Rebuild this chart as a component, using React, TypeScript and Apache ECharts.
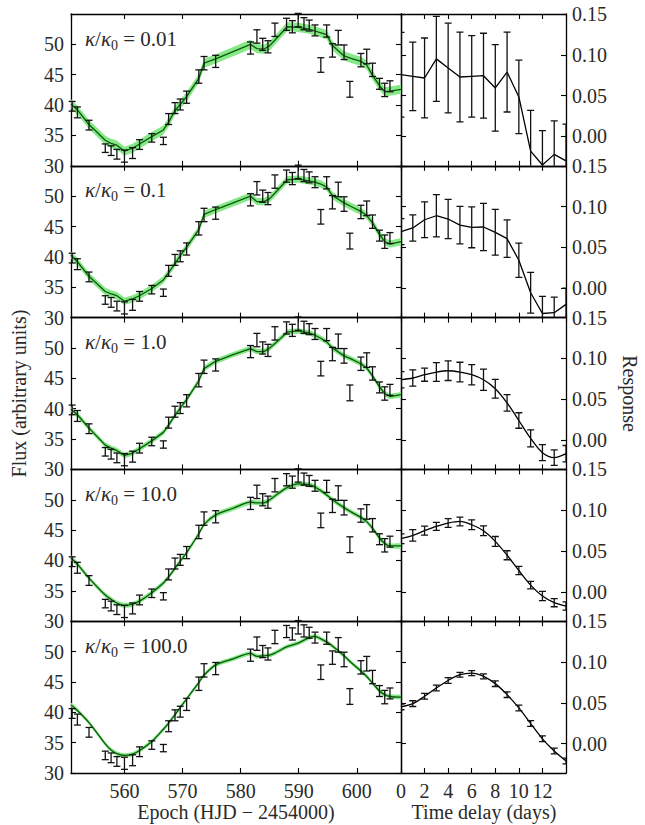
import React, { useEffect, useRef } from 'react';
import * as echarts from 'echarts';

// ---------- observations (same in every left panel) ----------
const obsEpoch = [551.0, 551.9, 553.9, 556.7, 557.7, 558.7, 560.0, 561.4, 562.6, 564.7, 566.7, 567.6, 568.7, 569.6, 570.7, 572.8, 573.7, 575.7, 581.7, 582.8, 583.8, 584.7, 585.9, 587.9, 588.9, 589.9, 590.9, 591.8, 592.8, 593.8, 594.8, 595.8, 596.8, 597.8, 598.8, 600.7, 601.7, 602.7, 603.9, 604.8, 605.7];
const obsFlux = [39.8, 38.8, 36.7, 32.9, 32.5, 31.9, 31.6, 32.1, 33.5, 34.6, 34.1, 37.7, 39.5, 40.1, 41.3, 44.7, 46.9, 47.2, 49.4, 51.3, 50.0, 49.6, 52.4, 53.3, 52.9, 54.0, 53.4, 53.1, 52.3, 46.6, 52.2, 49.0, 51.1, 48.7, 42.6, 47.4, 48.0, 45.8, 43.5, 42.5, 43.1];
const obsErr = [0.8, 0.9, 0.8, 0.7, 0.8, 0.8, 1.0, 0.9, 0.8, 0.7, 0.6, 0.9, 0.9, 0.9, 1.0, 1.1, 1.1, 1.0, 1.0, 1.1, 1.0, 1.0, 1.1, 1.0, 1.0, 1.1, 1.0, 0.9, 0.9, 1.2, 1.0, 1.1, 1.2, 1.2, 1.3, 1.1, 1.2, 1.1, 0.9, 1.1, 0.9];

// ---------- model light curves ----------
const modelEpoch = [550.8, 551.9, 553.9, 556.7, 557.7, 558.7, 560.0, 561.4, 562.6, 564.7, 566.7, 567.6, 568.7, 569.6, 570.7, 572.8, 573.7, 575.7, 578.7, 581.7, 582.8, 584.0, 585.0, 586.0, 588.0, 589.9, 591.8, 592.8, 593.8, 594.8, 595.8, 597.8, 599.0, 600.7, 601.7, 602.7, 603.9, 604.8, 605.7, 607.6];
const modelK001 = [40.2, 39.2, 36.8, 34.2, 33.7, 33.4, 32.4, 32.9, 33.6, 34.8, 35.9, 37.2, 39.1, 40.1, 41.4, 44.4, 46.9, 47.6, 48.8, 50.0, 49.3, 49.2, 49.8, 50.8, 52.9, 52.8, 52.5, 52.2, 51.9, 51.6, 49.8, 48.1, 47.7, 47.2, 46.6, 44.9, 43.2, 42.2, 42.3, 42.6];
const modelK01 = [40.3, 39.2, 36.8, 34.3, 33.9, 33.6, 32.7, 33.1, 33.6, 34.8, 36.2, 37.4, 38.9, 40.2, 41.6, 44.5, 47.0, 47.8, 48.9, 50.0, 49.1, 49.1, 49.6, 50.6, 52.7, 52.8, 52.5, 52.3, 52.0, 51.5, 50.1, 48.9, 48.3, 47.5, 46.8, 45.6, 43.7, 42.5, 42.1, 42.5];
const modelK1 = [39.9, 39.0, 36.8, 34.0, 33.5, 33.1, 32.3, 32.7, 33.4, 34.7, 36.1, 37.3, 38.9, 40.1, 41.5, 44.6, 46.6, 47.8, 48.9, 49.9, 49.4, 49.4, 50.0, 50.8, 52.6, 52.8, 52.5, 52.1, 51.6, 51.0, 50.0, 48.7, 48.2, 47.4, 46.7, 45.4, 43.6, 42.5, 42.0, 42.3];
const modelK10 = [40.4, 39.4, 37.1, 34.3, 33.6, 33.0, 32.6, 32.8, 33.3, 34.7, 36.3, 37.3, 38.7, 39.9, 41.3, 44.4, 45.9, 47.5, 48.6, 49.6, 49.5, 49.5, 50.0, 50.7, 52.0, 52.6, 52.5, 52.1, 51.5, 50.8, 50.0, 48.7, 48.0, 47.1, 46.4, 45.3, 43.7, 42.8, 42.4, 42.4];
const modelK100 = [41.2, 40.3, 38.3, 34.8, 33.8, 33.2, 32.9, 33.1, 33.7, 35.2, 37.2, 38.2, 39.6, 40.8, 42.2, 44.9, 46.1, 47.8, 48.8, 49.7, 49.2, 49.3, 49.4, 49.8, 50.8, 51.4, 52.3, 52.5, 52.1, 51.6, 50.9, 49.3, 48.2, 46.8, 45.9, 44.8, 43.5, 42.9, 42.6, 42.5];
const bandHalfWidth = [0.75, 0.6, 0.45, 0.4, 0.35];

// ---------- transfer functions ----------
const timeDelay = [0, 1, 2, 3, 4, 5, 6, 7, 8, 9, 10, 11, 12, 13, 14];
const respK001 = [0.0756, 0.0736, 0.0716, 0.095, 0.0838, 0.0728, 0.0736, 0.0744, 0.0594, 0.0789, 0.0484, -0.018, -0.035, -0.022, -0.03];
const respErrK001 = [0.052, 0.042, 0.049, 0.052, 0.055, 0.055, 0.05, 0.052, 0.053, 0.049, 0.045, 0.05, 0.042, 0.041, 0.045];
const respK01 = [0.0693, 0.0738, 0.0839, 0.0888, 0.0848, 0.0774, 0.0746, 0.075, 0.0685, 0.0607, 0.0343, -0.0055, -0.031, -0.03, -0.0198];
const respErrK01 = [0.016, 0.016, 0.022, 0.026, 0.024, 0.023, 0.025, 0.029, 0.028, 0.023, 0.021, 0.025, 0.021, 0.019, 0.02];
const respK1 = [0.0739, 0.076, 0.08, 0.0833, 0.0849, 0.0833, 0.08, 0.0739, 0.0629, 0.0455, 0.0239, 0.002, -0.0155, -0.0216, -0.0167];
const respErrK1 = [0.01, 0.01, 0.008, 0.0115, 0.012, 0.012, 0.0125, 0.013, 0.0115, 0.01, 0.0095, 0.0105, 0.0098, 0.0095, 0.01];
const respK10 = [0.0651, 0.0692, 0.0749, 0.0802, 0.0843, 0.0862, 0.0822, 0.0749, 0.0618, 0.0448, 0.0261, 0.0082, -0.0052, -0.0133, -0.0174];
const respErrK10 = [0.006, 0.007, 0.0055, 0.005, 0.0053, 0.0053, 0.006, 0.006, 0.006, 0.0055, 0.005, 0.0047, 0.0057, 0.005, 0.005];
const respK100 = [0.045, 0.049, 0.058, 0.0682, 0.0774, 0.0844, 0.0864, 0.0824, 0.0735, 0.06, 0.0437, 0.0246, 0.0059, -0.0091, -0.0213];
const respErrK100 = [0.0035, 0.0035, 0.0035, 0.0035, 0.0035, 0.003, 0.003, 0.003, 0.0035, 0.0035, 0.0035, 0.0035, 0.0035, 0.0035, 0.0035];

const kappaLabels = ['0.01', '0.1', '1.0', '10.0', '100.0'];
const models = [modelK001, modelK01, modelK1, modelK10, modelK100];
const responses = [respK001, respK01, respK1, respK10, respK100];
const responseErrs = [respErrK001, respErrK01, respErrK1, respErrK10, respErrK100];
const smoothPanel = [false, false, true, true, true];

const FONT = 'Liberation Serif';
const TXT = '#2a2a2a';

export default function App() {
  const ref = useRef<HTMLDivElement>(null);
  useEffect(() => {
    if (!ref.current) return;
    const chart = echarts.init(ref.current, undefined, { renderer: 'svg' });
    const LEFT = 71, MID = 401, RIGHT = 566, TOP = 14, PH = 151.8;
    const grid: any[] = [];
    const xAxis: any[] = [];
    const yAxis: any[] = [];
    const series: any[] = [];
    const graphic: any[] = [];
    const axisLine = { show: true, onZero: false, lineStyle: { color: '#000', width: 1.3 } };
    const axisTick = { show: true, inside: true, length: 5, lineStyle: { color: '#000', width: 1.1 } };
    const lbl = { fontFamily: FONT, fontSize: 20, color: TXT };

    const errBar = (color: string, cap: number) => (params: any, api: any) => {
      const x = api.value(0), y = api.value(1), e = api.value(2);
      const a = api.coord([x, y + e]);
      const b = api.coord([x, y - e]);
      const st = { stroke: color, lineWidth: 1.3 };
      return {
        type: 'group',
        children: [
          { type: 'line', shape: { x1: a[0], y1: a[1], x2: b[0], y2: b[1] }, style: st },
          { type: 'line', shape: { x1: a[0] - cap, y1: a[1], x2: a[0] + cap, y2: a[1] }, style: st },
          { type: 'line', shape: { x1: b[0] - cap, y1: b[1], x2: b[0] + cap, y2: b[1] }, style: st },
        ],
      };
    };

    for (let k = 0; k < 5; k++) {
      const top = TOP + k * PH;
      const last = k === 4;
      const gL = grid.length;
      grid.push({ left: LEFT, top, width: MID - LEFT, height: PH, containLabel: false });
      const gR = grid.length;
      grid.push({ left: MID, top, width: RIGHT - MID, height: PH, containLabel: false });

      const xL = xAxis.length;
      xAxis.push({
        type: 'value', gridIndex: gL, position: 'bottom', min: 550.8, max: 607.6, minInterval: 10, maxInterval: 10,
        axisLine, axisTick, splitLine: { show: false },
        axisLabel: { show: last, ...lbl, margin: 8, showMinLabel: false, showMaxLabel: false,
          formatter: (v: number) => (Math.abs(v / 10 - Math.round(v / 10)) < 1e-6 ? String(Math.round(v)) : '') },
      });
      xAxis.push({
        type: 'value', gridIndex: gL, position: 'top', min: 550.8, max: 607.6, minInterval: 10, maxInterval: 10,
        axisLine, axisTick, splitLine: { show: false }, axisLabel: { show: false },
      });
      const yL = yAxis.length;
      yAxis.push({
        type: 'value', gridIndex: gL, position: 'left', min: 30, max: 55, interval: 5,
        axisLine, axisTick, splitLine: { show: false },
        axisLabel: { show: true, ...lbl, margin: 7, showMaxLabel: false },
      });
      yAxis.push({
        type: 'value', gridIndex: gL, position: 'right', min: 30, max: 55, interval: 5,
        axisLine, axisTick, splitLine: { show: false }, axisLabel: { show: false },
      });

      const xR = xAxis.length;
      xAxis.push({
        type: 'value', gridIndex: gR, position: 'bottom', min: 0, max: 14, interval: 2,
        axisLine, axisTick, splitLine: { show: false },
        axisLabel: { show: last, ...lbl, margin: 8, showMaxLabel: false },
      });
      xAxis.push({
        type: 'value', gridIndex: gR, position: 'top', min: 0, max: 14, interval: 2,
        axisLine, axisTick, splitLine: { show: false }, axisLabel: { show: false },
      });
      const yR = yAxis.length;
      yAxis.push({
        type: 'value', gridIndex: gR, position: 'left', min: -0.036, max: 0.15, minInterval: 0.05, maxInterval: 0.05,
        axisLine, axisTick, splitLine: { show: false }, axisLabel: { show: false },
      });
      yAxis.push({
        type: 'value', gridIndex: gR, position: 'right', min: -0.036, max: 0.15, minInterval: 0.05, maxInterval: 0.05,
        axisLine, axisTick, splitLine: { show: false },
        axisLabel: { show: true, ...lbl, margin: 6, showMinLabel: false,
          formatter: (v: number) => (v < -0.001 ? '' : v.toFixed(2)) },
      });

      const model = models[k];
      const hw = bandHalfWidth[k];
      const sm = smoothPanel[k];
      series.push({
        type: 'custom', xAxisIndex: xL, yAxisIndex: yL, silent: true, clip: true, z: 1,
        data: [[modelEpoch[0], model[0]]],
        renderItem: (params: any, api: any) => {
          const up = modelEpoch.map((x, i) => api.coord([x, model[i] + hw]));
          const lo = modelEpoch.map((x, i) => api.coord([x, model[i] - hw])).reverse();
          return {
            type: 'polygon',
            shape: { points: up.concat(lo), smooth: sm && k >= 3 ? 0.25 : 0 },
            style: { fill: '#86e886', stroke: 'none' },
          };
        },
      });
      series.push({
        type: 'line', xAxisIndex: xL, yAxisIndex: yL, symbol: 'none', silent: true, z: 2,
        smooth: sm && k >= 3 ? 0.3 : false,
        data: modelEpoch.map((x, i) => [x, model[i]]),
        lineStyle: { color: '#0b5a0b', width: 1.3 },
      });
      series.push({
        type: 'custom', xAxisIndex: xL, yAxisIndex: yL, clip: false, z: 3, silent: true,
        encode: { x: 0, y: 1 },
        data: obsEpoch.map((x, i) => [x, obsFlux[i], obsErr[i]]),
        renderItem: errBar('#111', 3.5),
      });

      const resp = responses[k];
      const rerr = responseErrs[k];
      series.push({
        type: 'line', xAxisIndex: xR, yAxisIndex: yR, symbol: 'none', silent: true, z: 2,
        smooth: sm ? 0.3 : false,
        data: timeDelay.map((t, i) => [t, resp[i]]),
        lineStyle: { color: '#000', width: 1.3 },
      });
      series.push({
        type: 'custom', xAxisIndex: xR, yAxisIndex: yR, clip: true, z: 3, silent: true,
        encode: { x: 0, y: 1 },
        data: timeDelay.map((t, i) => [t, resp[i], rerr[i]]),
        renderItem: errBar('#111', 3.5),
      });

      graphic.push({
        type: 'text', x: 85, y: top + 26, silent: true,
        style: {
          text: `{k|κ}{n|/}{k|κ}{s|0}{n| = ${kappaLabels[k]}}`,
          verticalAlign: 'middle', align: 'left',
          rich: {
            k: { fontFamily: FONT, fontSize: 21, fontStyle: 'italic', fill: TXT, verticalAlign: 'top' },
            n: { fontFamily: FONT, fontSize: 21, fill: TXT, verticalAlign: 'top' },
            s: { fontFamily: FONT, fontSize: 14, fill: TXT, verticalAlign: 'top', padding: [10, 0, 0, 0] },
          },
        },
      });
    }

    const title = (text: string, x: number, y: number, rotation: number) => ({
      type: 'text', x, y, rotation, silent: true,
      style: { text, fontFamily: FONT, fontSize: 20, fill: TXT, align: 'center', verticalAlign: 'middle' },
    });
    graphic.push(title('Flux (arbitrary units)', 19, TOP + 2.5 * PH, Math.PI / 2));
    graphic.push(title('Response', 630, TOP + 2.5 * PH, -Math.PI / 2));
    graphic.push(title('Epoch (HJD \u2212 2454000)', 236, 812, 0));
    graphic.push(title('Time delay (days)', 484, 812, 0));

    chart.setOption({
      animation: false,
      backgroundColor: '#fff',
      grid, xAxis, yAxis, series, graphic,
    });
    return () => chart.dispose();
  }, []);
  return <div ref={ref} style={{ position: 'fixed', left: 0, top: 0, width: 645, height: 825 }} />;
}
